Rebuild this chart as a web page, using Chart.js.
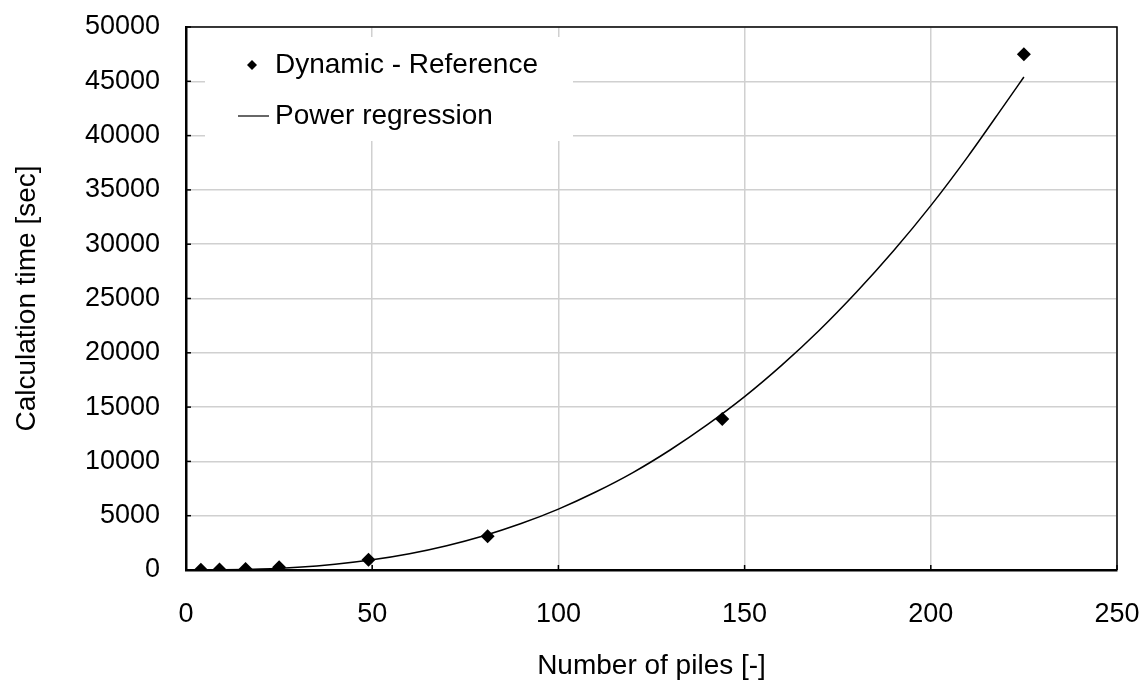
<!DOCTYPE html>
<html>
<head>
<meta charset="utf-8">
<script src="https://cdn.jsdelivr.net/npm/chart.js@4/dist/chart.umd.min.js"></script>
<style>
  html, body { margin: 0; padding: 0; background: #fff; }
  #wrap { width: 1142px; height: 683px; position: relative; }
</style>
</head>
<body>
<div id="wrap"><canvas id="chart"></canvas></div>
<script>
// measured calculation times
const pileCounts = [4, 9, 16, 25, 49, 81, 144, 225];
const calcTimes = [20, 40, 100, 250, 950, 3100, 13900, 47500];

// power regression curve
const fitPiles = [4, 10, 20, 30, 40, 50, 60, 70, 80, 90, 100, 110, 120, 130, 140, 150, 160, 170, 180, 190, 200, 210, 220, 225];
const fitTimes = [1, 15, 88, 250, 530, 940, 1500, 2240, 3160, 4280, 5610, 7180, 8970, 11050, 13380, 15960, 18860, 22050, 25570, 29390, 33550, 38090, 42950, 45400];

const xTicks = [0, 50, 100, 150, 200, 250];
const yTicks = [0, 5000, 10000, 15000, 20000, 25000, 30000, 35000, 40000, 45000, 50000];

const fontFamily = '"Liberation Sans", Arial, sans-serif';
const fontSize = 27;

// frame, inner tick marks and the legend box drawn inside the plot
const framePlugin = {
    id: 'framePlugin',
    beforeDatasetsDraw(chart) {
        const ctx = chart.ctx;
        const area = chart.chartArea;
        const xs = chart.scales.x;
        const ys = chart.scales.y;

        ctx.save();
        ctx.strokeStyle = '#000';
        ctx.lineWidth = 1.5;
        // inner tick marks
        yTicks.forEach(v => {
            const py = ys.getPixelForValue(v);
            ctx.beginPath();
            ctx.moveTo(area.left, py);
            ctx.lineTo(area.left + 5, py);
            ctx.stroke();
        });
        xTicks.forEach(v => {
            const px = xs.getPixelForValue(v);
            ctx.beginPath();
            ctx.moveTo(px, area.bottom);
            ctx.lineTo(px, area.bottom - 5);
            ctx.stroke();
        });
        // top and right edges
        ctx.beginPath();
        ctx.moveTo(area.left, area.top);
        ctx.lineTo(area.right, area.top);
        ctx.lineTo(area.right, area.bottom);
        ctx.stroke();

        // legend
        const bx = area.left + 19, by = area.top + 10, bw = 368, bh = 104;
        ctx.fillStyle = '#fff';
        ctx.fillRect(bx, by, bw, bh);

        ctx.fillStyle = '#000';
        ctx.font = '28px ' + fontFamily;
        ctx.textBaseline = 'middle';
        const ds = chart.data.datasets;

        // marker item
        const y1 = by + 28;
        ctx.beginPath();
        ctx.moveTo(bx + 47, y1 - 5);
        ctx.lineTo(bx + 52, y1);
        ctx.lineTo(bx + 47, y1 + 5);
        ctx.lineTo(bx + 42, y1);
        ctx.closePath();
        ctx.fill();
        ctx.fillText(ds[0].label, bx + 70, y1);

        // line item
        const y2 = by + 79;
        ctx.lineWidth = 1.2;
        ctx.beginPath();
        ctx.moveTo(bx + 33, y2);
        ctx.lineTo(bx + 64, y2);
        ctx.stroke();
        ctx.fillText(ds[1].label, bx + 70, y2);
        ctx.restore();
    }
};

function noLabelPadding(scale) {
    scale.paddingTop = 0;
    scale.paddingBottom = 0;
    scale.paddingLeft = 0;
    scale.paddingRight = 0;
}

const ctx = document.getElementById('chart').getContext('2d');
new Chart(ctx, {
    type: 'scatter',
    data: {
        datasets: [
            {
                label: 'Dynamic - Reference',
                data: pileCounts.map((x, i) => ({ x: x, y: calcTimes[i] })),
                pointStyle: 'rectRot',
                pointRadius: 7,
                backgroundColor: '#000',
                borderColor: '#000',
                borderWidth: 0,
                order: 1
            },
            {
                label: 'Power regression',
                data: fitPiles.map((x, i) => ({ x: x, y: fitTimes[i] })),
                showLine: true,
                pointRadius: 0,
                borderColor: '#000',
                borderWidth: 1.5,
                cubicInterpolationMode: 'monotone',
                order: 2
            }
        ]
    },
    options: {
        responsive: true,
        maintainAspectRatio: false,
        animation: false,
        layout: { padding: { top: 27, right: 25, left: 10, bottom: 0 } },
        plugins: {
            legend: { display: false },
            tooltip: { enabled: false }
        },
        scales: {
            x: {
                type: 'linear',
                min: 0,
                max: 250,
                afterBuildTicks: scale => { scale.ticks = xTicks.map(v => ({ value: v })); },
                grid: { color: '#d0d0d0', lineWidth: 1.5, drawTicks: false },
                border: { color: '#000', width: 2.5 },
                ticks: {
                    color: '#000',
                    padding: 28,
                    font: { family: fontFamily, size: fontSize },
                    callback: v => String(v)
                },
                title: {
                    display: true,
                    text: 'Number of piles [-]',
                    color: '#000',
                    padding: { top: 12, bottom: 0 },
                    font: { family: fontFamily, size: 28 }
                },
                afterFit: scale => { scale.height = 113; noLabelPadding(scale); }
            },
            y: {
                type: 'linear',
                min: 0,
                max: 50000,
                afterBuildTicks: scale => { scale.ticks = yTicks.map(v => ({ value: v })); },
                grid: { color: '#d0d0d0', lineWidth: 1.5, drawTicks: false },
                border: { color: '#000', width: 2.5 },
                ticks: {
                    color: '#000',
                    padding: 26,
                    font: { family: fontFamily, size: fontSize },
                    callback: v => String(v)
                },
                title: {
                    display: true,
                    text: 'Calculation time [sec]',
                    color: '#000',
                    padding: { top: 0, bottom: 8 },
                    font: { family: fontFamily, size: 28 }
                },
                afterFit: scale => { scale.width = 176; noLabelPadding(scale); }
            }
        }
    },
    plugins: [framePlugin]
});
</script>
</body>
</html>
